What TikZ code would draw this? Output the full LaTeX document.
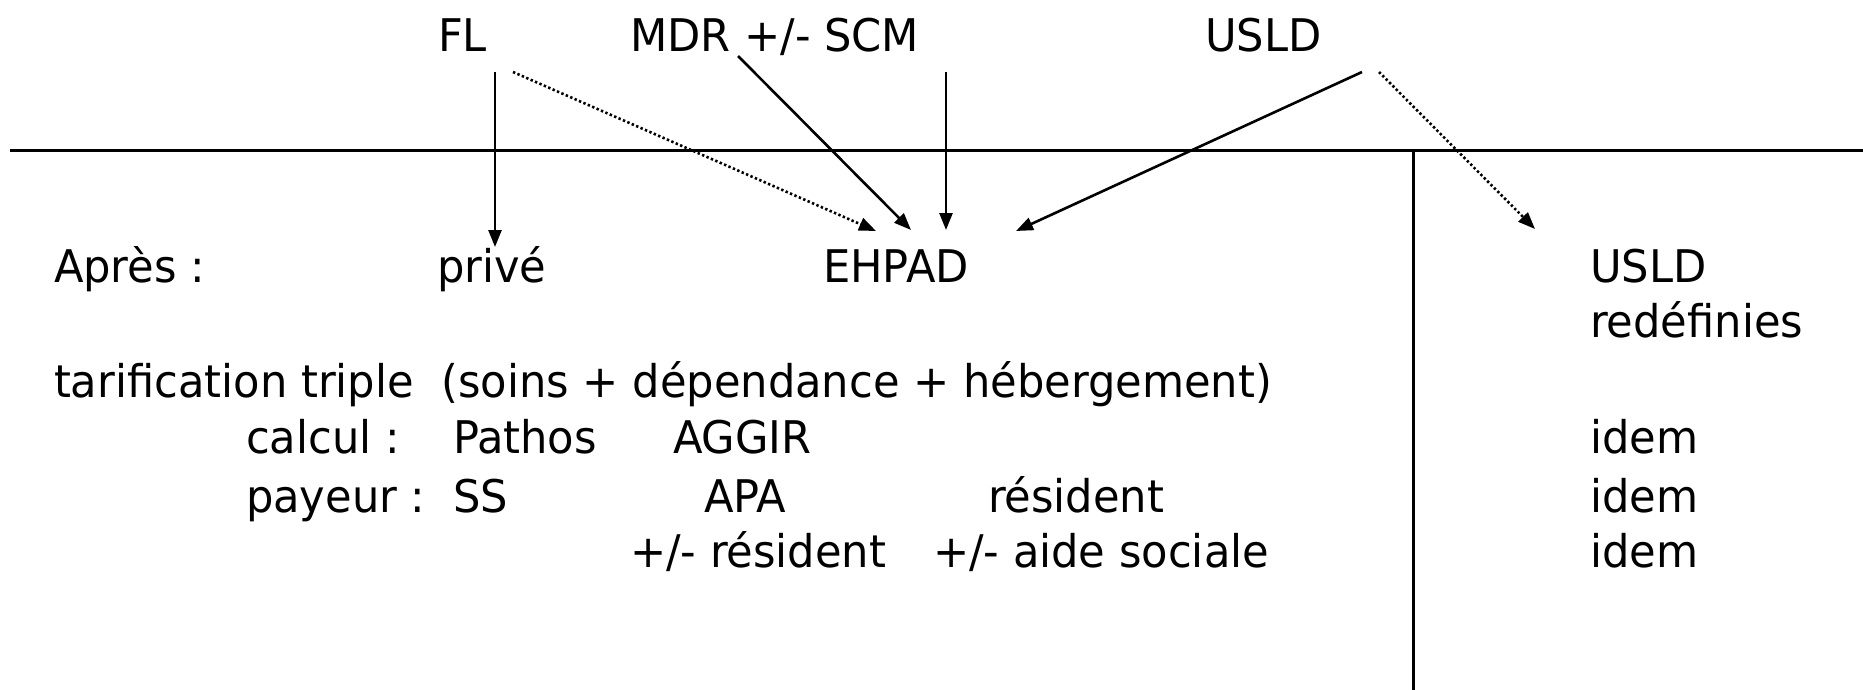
\documentclass[tikz,border=0pt]{standalone}
\usepackage{fontspec}
\setmainfont{DejaVu Sans}[FakeStretch=0.96]
\usetikzlibrary{arrows.meta}
\begin{document}
\begin{tikzpicture}[x=1pt,y=-1pt,
  txt/.style={anchor=base west,inner sep=0pt,outer sep=0pt,font=\fontsize{45}{54}\selectfont},
  rule/.style={line width=3pt},
  link/.style={line width=2.6pt,-{Triangle[length=17pt,width=13pt]}},
  weak/.style={link,dash pattern=on 2.4pt off 2.4pt}]
\useasboundingbox (0,0) rectangle (1863,690);

% frame lines
\coordinate (hl) at (10,151);
\coordinate (hr) at (1863,151);
\coordinate (vt) at (1413,151);
\coordinate (vb) at (1413,690);
\draw[rule] (hl) -- (hr);
\draw[rule] (vt) -- (vb);

% top row
\node[txt] (fl)   at (438,52)  {FL};
\node[txt] (mdr)  at (630,52)  {MDR +/- SCM};
\node[txt] (usld) at (1205,52) {USLD};

% after the reform
\node[txt] (apres) at (54,282)  {Après :};
\node[txt] (prive) at (437,282) {privé};
\node[txt] (ehpad) at (823,282) {EHPAD};
\node[txt] (uslr)  at (1590,282) {USLD};
\node[txt] (redef) at (1590,337) {redéfinies};

\node[txt] (tarif) at (54,397) {tarification triple\ \ (soins + dépendance + hébergement)};
\node[txt] (calc)  at (246,453) {calcul :};
\node[txt] (path)  at (453,453) {Pathos};
\node[txt] (aggir) at (673,453) {AGGIR};
\node[txt] (pay)   at (246,512) {payeur :};
\node[txt] (ss)    at (453,512) {SS};
\node[txt] (apa)   at (704,512) {APA};
\node[txt] (res)   at (988,512) {résident};
\node[txt] (pmres) at (630,567) {+/- résident};
\node[txt] (pmaid) at (933,567) {+/- aide sociale};
\node[txt] (id1)   at (1590,453) {idem};
\node[txt] (id2)   at (1590,512) {idem};
\node[txt] (id3)   at (1590,567) {idem};

% arrow ends
\coordinate (flA)  at (495,72);
\coordinate (flB)  at (495,247);
\coordinate (flC)  at (513,72);
\coordinate (ehA)  at (876,231);
\coordinate (mdA)  at (738,56);
\coordinate (ehB)  at (911,230);
\coordinate (scA)  at (946,72);
\coordinate (ehC)  at (946,230);
\coordinate (usA)  at (1362,72);
\coordinate (ehD)  at (1016,231);
\coordinate (usB)  at (1379,72);
\coordinate (urA)  at (1535,229);

\draw[link] (flA) -- (flB);
\draw[weak] (flC) -- (ehA);
\draw[link] (mdA) -- (ehB);
\draw[link] (scA) -- (ehC);
\draw[link] (usA) -- (ehD);
\draw[weak] (usB) -- (urA);
\end{tikzpicture}
\end{document}
